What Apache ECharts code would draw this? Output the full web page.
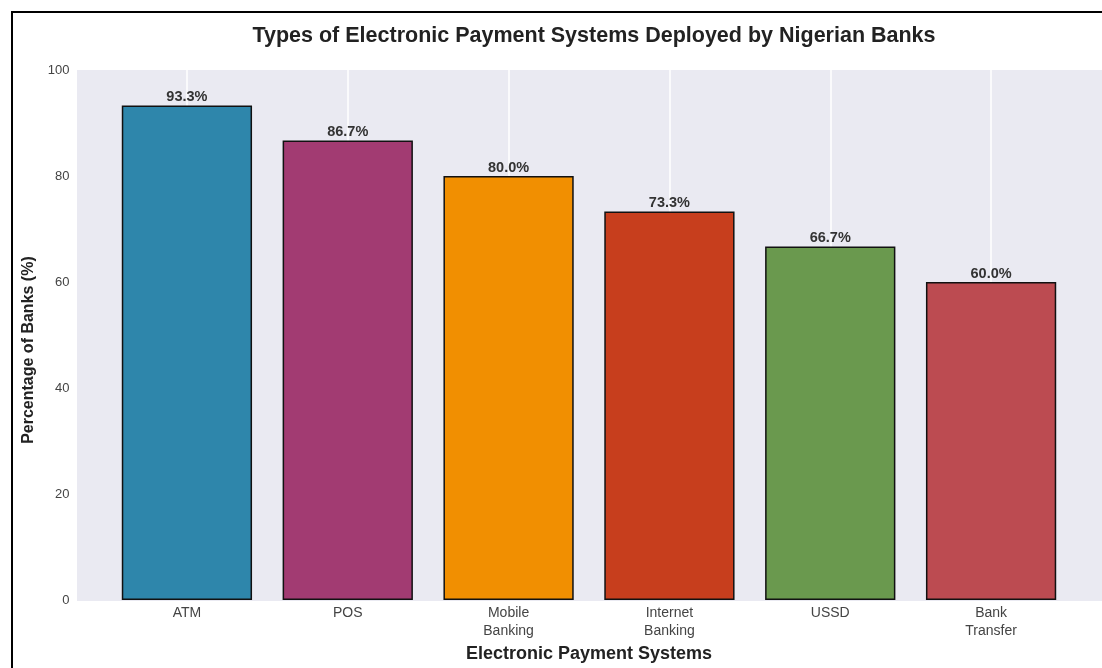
<!DOCTYPE html>
<html>
<head>
<meta charset="utf-8">
<script src="https://cdn.jsdelivr.net/npm/echarts@6/dist/echarts.min.js"></script>
<style>
html,body{margin:0;padding:0;background:#fff;}
#chart{width:1102px;height:668px;}
</style>
</head>
<body>
<div id="chart"></div>
<script>
const categories = ['ATM', 'POS', 'Mobile\nBanking', 'Internet\nBanking', 'USSD', 'Bank\nTransfer'];
const percentages = [93.3, 86.7, 80.0, 73.3, 66.7, 60.0];
const barColors = ['#2E86AB', '#A23B72', '#F18F01', '#C73E1D', '#6A994E', '#BC4B51'];
const yTicks = { min: 0, max: 100, interval: 20 };

const chart = echarts.init(document.getElementById('chart'), null, { renderer: 'canvas' });
const FONT = 'Liberation Sans';

chart.setOption({
  backgroundColor: '#ffffff',
  animation: false,
  title: {
    text: 'Types of Electronic Payment Systems Deployed by Nigerian Banks',
    left: 589, top: 20, textAlign: 'center',
    textStyle: { fontFamily: FONT, fontSize: 21.5, fontWeight: 'bold', color: '#222' }
  },
  graphic: [
    { type: 'rect', z: -10, silent: true,
      shape: { x: 12, y: 12, width: 1200, height: 800 },
      style: { fill: 'none', stroke: '#000', lineWidth: 2 } },
    { type: 'rect', z: -5, silent: true,
      shape: { x: 77, y: 70, width: 1025, height: 531 },
      style: { fill: '#EAEAF2' } }
  ],
  grid: { left: 106.5, right: 30.5, top: 70, bottom: 67 },
  xAxis: {
    type: 'category',
    data: categories,
    boundaryGap: true,
    name: 'Electronic Payment Systems',
    nameLocation: 'middle',
    nameGap: 40,
    nameTextStyle: { fontFamily: FONT, fontSize: 18, fontWeight: 'bold', color: '#222' },
    axisLine: { show: false },
    axisTick: { show: false },
    axisLabel: { fontFamily: FONT, fontSize: 14, color: '#444', margin: 4, lineHeight: 18 },
    splitLine: { show: true, alignWithLabel: true, lineStyle: { color: '#ffffff', width: 1.5 } }
  },
  yAxis: {
    type: 'value',
    min: yTicks.min, max: yTicks.max, interval: yTicks.interval,
    name: 'Percentage of Banks (%)',
    nameLocation: 'middle',
    nameGap: 70,
    nameRotate: 90,
    nameTextStyle: { fontFamily: FONT, fontSize: 16, fontWeight: 'bold', color: '#222', padding: [0, 30, 0, 0] },
    axisLine: { show: false },
    axisTick: { show: false },
    axisLabel: { fontFamily: FONT, fontSize: 13, color: '#444', margin: 37 },
    splitLine: { show: false }
  },
  series: [{
    type: 'bar',
    data: percentages.map((v, i) => ({ value: v, itemStyle: { color: barColors[i] } })),
    barWidth: '81%',
    itemStyle: { borderColor: '#111', borderWidth: 1.5 },
    label: {
      show: true, position: 'top', distance: 1,
      formatter: p => p.value.toFixed(1) + '%',
      fontFamily: FONT, fontSize: 14.5, fontWeight: 'bold', color: '#333'
    }
  }]
});
</script>
</body>
</html>
